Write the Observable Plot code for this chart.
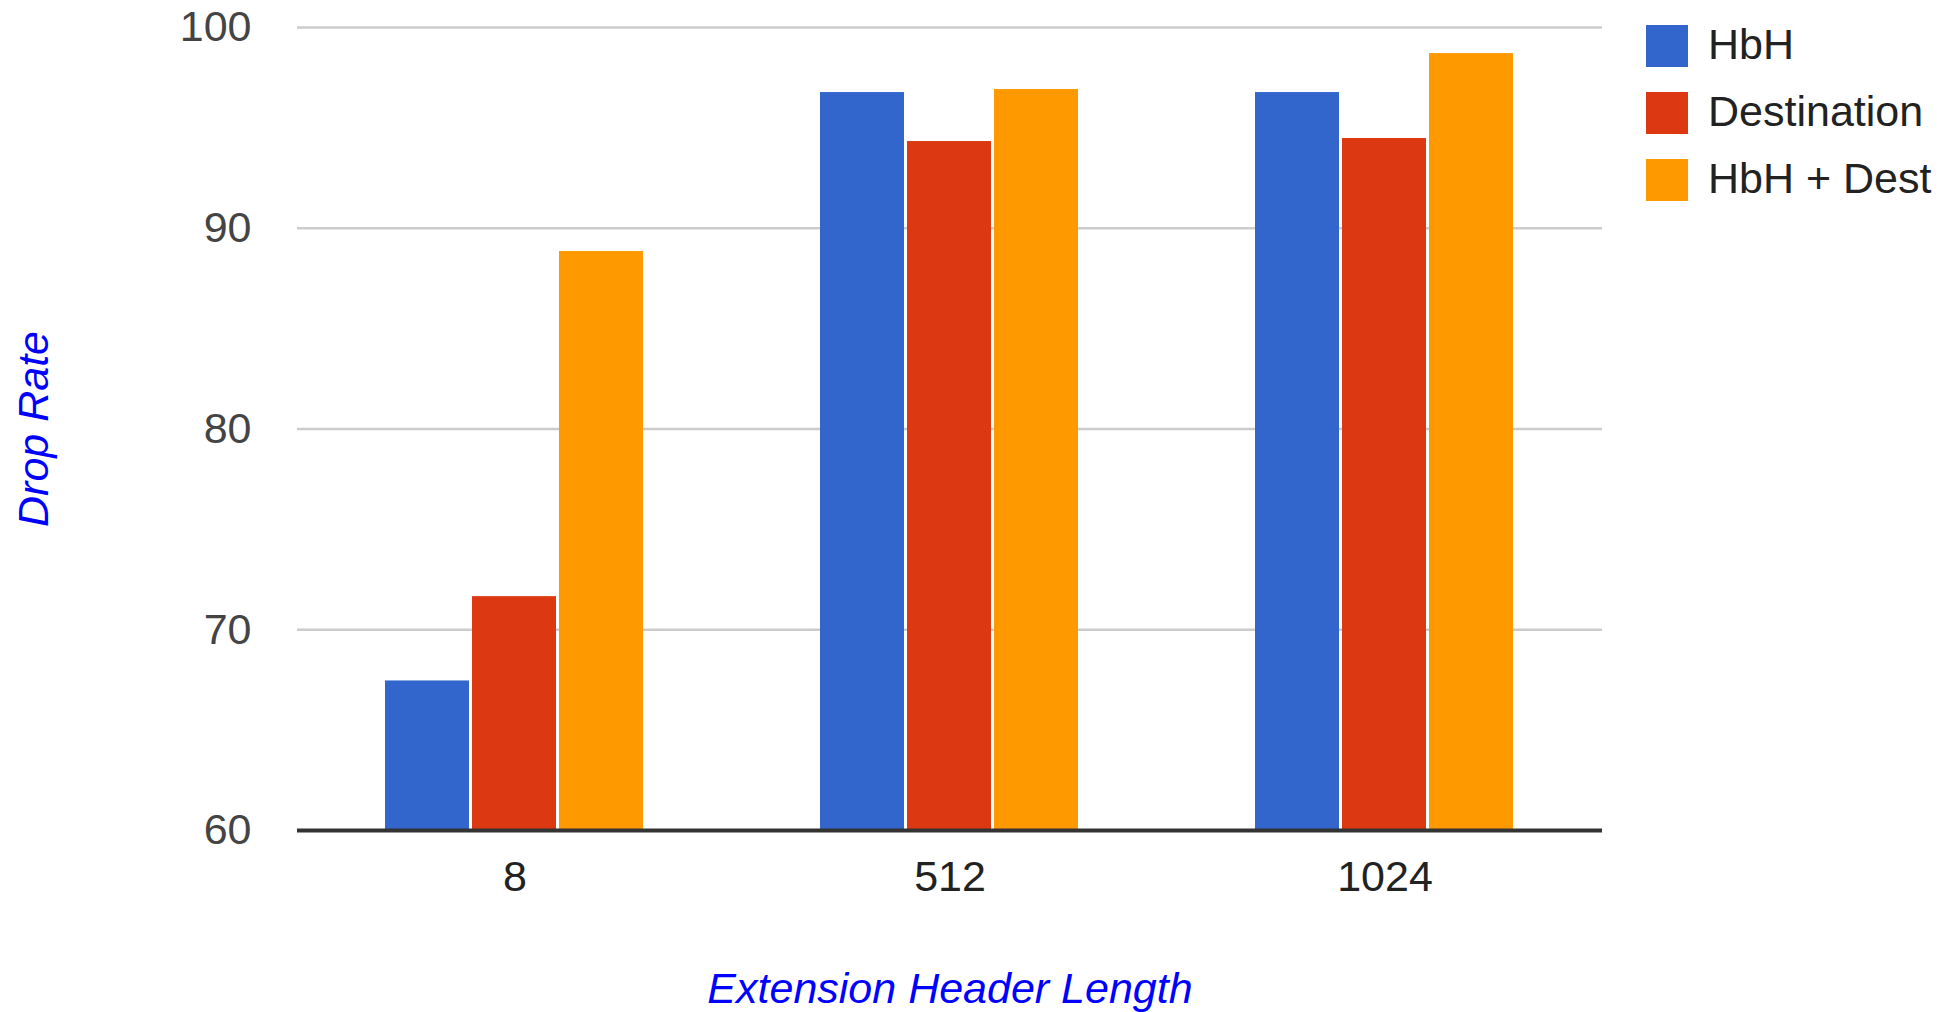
<!DOCTYPE html>
<html><head><meta charset="utf-8">
<script src="https://cdn.jsdelivr.net/npm/d3@7"></script>
<script src="https://cdn.jsdelivr.net/npm/@observablehq/plot@0.6"></script>
<style>
body{margin:0;background:#fff;}
#wrap{position:relative;width:1952px;height:1012px;font-family:"Liberation Sans",Arial,sans-serif;}
#legend{position:absolute;left:1646px;top:25px;}
.item{display:flex;align-items:center;height:42px;margin-bottom:25px;font-size:43px;color:#222;}
.item span{position:relative;top:-2px;}
.sw{width:42px;height:42px;margin-right:20px;flex:none;}
g[aria-label="y-axis label"] text, g[aria-label="fx-axis label"] text{fill:#0000ff;font-style:italic;}
g[aria-label="y-axis label"], g[aria-label="fx-axis label"]{fill:#0000ff;font-style:italic;}
g[aria-label="fx-axis tick label"]{fill:#222;}
</style></head><body><div id="wrap"></div>
<script>
const groups = ["8", "512", "1024"];
const series = ["HbH", "Destination", "HbH + Dest"];
const hbh = [67.45, 96.76, 96.76];
const destination = [71.65, 94.32, 94.47];
const hbhDest = [88.84, 96.91, 98.7];
const colors = ["#3366cc", "#dc3912", "#ff9900"];
const yTicks = [60, 70, 80, 90, 100];
const xTitle = "Extension Header Length";
const yTitle = "Drop Rate";

const values = [hbh, destination, hbhDest];
const rows = [];
series.forEach((s, i) => groups.forEach((g, j) => rows.push({group: g, series: s, value: values[i][j]})));

const font = '"Liberation Sans", Arial, sans-serif';
const chart = Plot.plot({
  width: 1952, height: 1012,
  marginLeft: 296, marginRight: 349, marginTop: 27, marginBottom: 182,
  style: {fontFamily: font, fontSize: "43px", color: "#444", background: "white"},
  fx: {domain: groups, paddingInner: 0, paddingOuter: 0},
  x: {domain: series, paddingInner: 0.034, paddingOuter: 0.99},
  y: {domain: [60, 100]},
  color: {domain: series, range: colors},
  marks: [
    Plot.ruleY(yTicks.slice(1), {stroke: "#cccccc", strokeWidth: 2.5}),
    Plot.barY(rows, {fx: "group", x: "series", y1: yTicks[0], y2: "value", fill: "series"}),
    Plot.ruleY([yTicks[0]], {stroke: "#333333", strokeWidth: 4}),
    Plot.axisX({ticks: [], label: null}),
    Plot.axisY({ticks: yTicks, tickSize: 0, tickPadding: 46, label: yTitle, labelArrow: "none", labelAnchor: "center", labelOffset: 280, fontSize: 43}),
    Plot.axisFx({anchor: "bottom", tickSize: 0, tickPadding: 30, label: xTitle, labelArrow: "none", labelAnchor: "center", labelOffset: 172, fontSize: 43})
  ]
});
const wrap = document.getElementById("wrap");
wrap.appendChild(chart);
const legend = document.createElement("div");
legend.id = "legend";
series.forEach((s, i) => {
  const it = document.createElement("div");
  it.className = "item";
  const sw = document.createElement("div");
  sw.className = "sw";
  sw.style.background = colors[i];
  const t = document.createElement("span");
  t.textContent = s;
  it.appendChild(sw); it.appendChild(t);
  legend.appendChild(it);
});
wrap.appendChild(legend);
</script></body></html>
